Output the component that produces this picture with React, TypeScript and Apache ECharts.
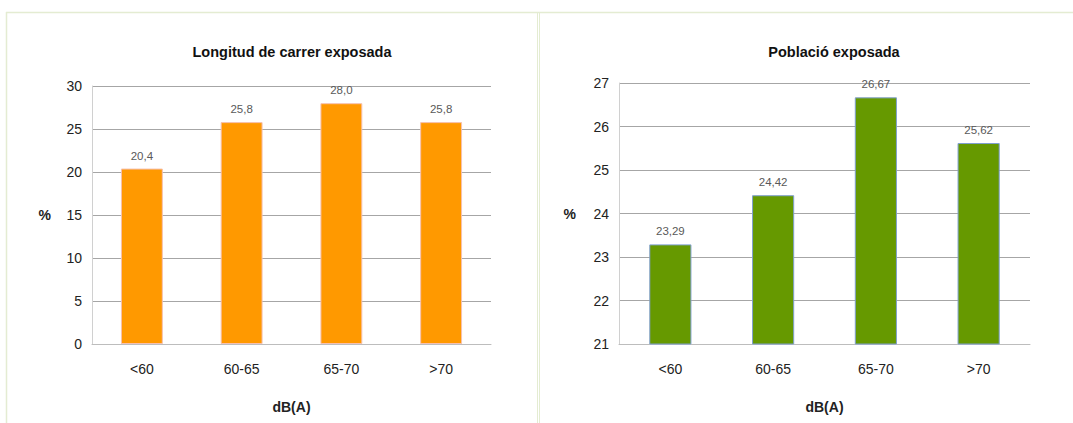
import React, { useEffect, useRef } from "react";
import * as echarts from "echarts";

const categories = ["<60", "60-65", "65-70", ">70"];
const lengthValues = [20.4, 25.8, 28.0, 25.8];
const populationValues = [23.29, 24.42, 26.67, 25.62];
const leftTitle = "Longitud de carrer exposada";
const rightTitle = "Població exposada";
const xName = "dB(A)";
const yName = "%";

const FONT = "Liberation Sans, Arial, sans-serif";

export default function App() {
  const ref = useRef<HTMLDivElement>(null);
  useEffect(() => {
    if (!ref.current) return;
    const chart = echarts.init(ref.current, null, { renderer: "svg" });
    const fmt = (d: number) => (v: any) => Number(v.value).toFixed(d).replace(".", ",");
    const axisCommon = {
      axisLabel: { color: "#222", fontSize: 14, fontFamily: FONT, margin: 10 },
      axisTick: { show: false },
    };
    const xAxisFor = (gridIndex: number) => ({
      type: "category",
      gridIndex,
      data: categories,
      name: xName,
      nameLocation: "middle",
      nameGap: 56,
      nameTextStyle: { fontWeight: "bold", fontSize: 14, color: "#222", fontFamily: FONT },
      axisLine: { lineStyle: { color: "#bdbdbd", width: 1 } },
      axisTick: { show: false },
      axisLabel: { color: "#222", fontSize: 14, fontFamily: FONT, margin: 18 },
    });
    const yAxisFor = (gridIndex: number, min: number, max: number, interval: number, gap: number) => ({
      type: "value",
      gridIndex,
      min,
      max,
      interval,
      name: yName,
      nameLocation: "middle",
      nameRotate: 0,
      nameGap: gap,
      nameTextStyle: { fontWeight: "bold", fontSize: 14, color: "#222", fontFamily: FONT },
      axisLine: { show: true, lineStyle: { color: "#d0d0d0", width: 1 } },
      splitLine: { lineStyle: { color: "#a6a6a6", width: 1 } },
      ...axisCommon,
    });
    const labelCommon = {
      show: true,
      position: "top",
      distance: 7,
      color: "#595959",
      fontSize: 11.5,
      fontFamily: FONT,
    };
    chart.setOption({
      animation: false,
      backgroundColor: "#ffffff",
      title: [
        {
          text: leftTitle,
          left: 287,
          top: 39,
          textAlign: "center",
          textStyle: { fontSize: 14.5, fontWeight: "bold", color: "#111", fontFamily: FONT },
        },
        {
          text: rightTitle,
          left: 829,
          top: 39,
          textAlign: "center",
          textStyle: { fontSize: 14.5, fontWeight: "bold", color: "#111", fontFamily: FONT },
        },
      ],
      grid: [
        { left: 92, right: 1073 - 491, top: 86, bottom: 423 - 344 },
        { left: 619, right: 1073 - 1030, top: 83, bottom: 423 - 344 },
      ],
      xAxis: [xAxisFor(0), xAxisFor(1)],
      yAxis: [yAxisFor(0, 0, 30, 5, 41), yAxisFor(1, 21, 27, 1, 43)],
      series: [
        {
          type: "bar",
          xAxisIndex: 0,
          yAxisIndex: 0,
          data: lengthValues,
          barWidth: "42%",
          itemStyle: { color: "#ff9900", borderColor: "#f6c0b0", borderWidth: 1 },
          label: { ...labelCommon, formatter: fmt(1) },
        },
        {
          type: "bar",
          xAxisIndex: 1,
          yAxisIndex: 1,
          data: populationValues,
          barWidth: "41%",
          itemStyle: { color: "#669900", borderColor: "#7f9fcf", borderWidth: 1 },
          label: { ...labelCommon, formatter: fmt(2) },
        },
      ],
      graphic: [
        { type: "line", shape: { x1: 6, y1: 12.5, x2: 1073, y2: 12.5 }, style: { stroke: "#e4ecd2", lineWidth: 1.5 } },
        { type: "line", shape: { x1: 6.5, y1: 12, x2: 6.5, y2: 423 }, style: { stroke: "#e4ecd2", lineWidth: 1.5 } },
        { type: "line", shape: { x1: 537.5, y1: 12, x2: 537.5, y2: 423 }, style: { stroke: "#e4ecd2", lineWidth: 1 } },
        { type: "line", shape: { x1: 539.5, y1: 12, x2: 539.5, y2: 423 }, style: { stroke: "#e4ecd2", lineWidth: 1 } },
      ],
    });
    return () => chart.dispose();
  }, []);
  return (
    <div
      ref={ref}
      style={{ position: "fixed", left: 0, top: 0, width: 1073, height: 423 }}
    />
  );
}
